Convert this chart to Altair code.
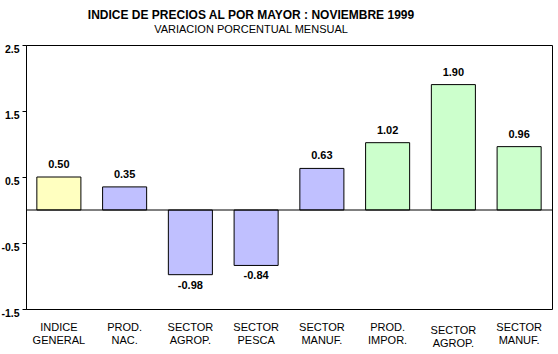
import altair as alt
import pandas as pd

codes = ["A", "B", "C", "D", "E", "F", "G", "H"]
line1 = ["INDICE", "PROD.", "SECTOR", "SECTOR", "SECTOR", "PROD.", "SECTOR", "SECTOR"]
line2 = ["GENERAL", "NAC.", "AGROP.", "PESCA", "MANUF.", "IMPOR.", "AGROP.", "MANUF."]
values = [0.50, 0.35, -0.98, -0.84, 0.63, 1.02, 1.90, 0.96]
groups = ["general", "nacional", "nacional", "nacional", "nacional",
          "importado", "importado", "importado"]
y_ticks = [-1.5, -0.5, 0.5, 1.5, 2.5]

df = pd.DataFrame({
    "code": codes,
    "value": values,
    "group": groups,
    "label": [f"{v:.2f}" for v in values],
})

label_map = "{" + ",".join(
    f"'{c}':['{a}','{b}']" for c, a, b in zip(codes, line1, line2)
) + "}"

font = "Liberation Sans"

x_enc = alt.X(
    "code:N", sort=None,
    scale=alt.Scale(paddingInner=0.33, paddingOuter=0.165),
    axis=alt.Axis(
        title=None, domain=False, ticks=False, labelAngle=0,
        labelExpr=label_map + "[datum.value]",
        labelBaseline="top",
        labelPadding={"condition": {"test": "datum.value === 'G'", "value": 15}, "value": 12},
        labelLineHeight=13, labelFont=font, labelFontSize=11, labelColor="black",
    ),
)
y_enc = alt.Y(
    "value:Q",
    scale=alt.Scale(domain=[-1.5, 2.5], nice=False, zero=False),
    axis=alt.Axis(
        values=y_ticks, title=None, grid=False,
        labelExpr="replace(format(datum.value, '.1f'), '\u2212', '-')",
        domainColor="black", tickColor="black", tickSize=4,
        labelFont=font, labelFontWeight="bold", labelFontSize=10.5,
        labelBaseline="top", labelOffset=-1, labelPadding=3, labelColor="black",
    ),
)

base = alt.Chart(df)

bars = base.mark_bar(stroke="black", strokeWidth=1).encode(
    x=x_enc, y=y_enc,
    color=alt.Color("group:N", legend=None,
                    scale=alt.Scale(domain=["general", "nacional", "importado"],
                                    range=["#FFFFC0", "#C0C0FF", "#CCFFCC"])),
)

zero = alt.Chart(pd.DataFrame({"z": [0]})).mark_rule(color="black", strokeWidth=1).encode(
    y=alt.Y("z:Q")
)

pos_text = base.transform_filter("datum.value >= 0").mark_text(
    font=font, fontWeight="bold", fontSize=11, baseline="bottom", dy=-7, color="black"
).encode(x=alt.X("code:N", sort=None), y="value:Q", text="label:N")

neg_text = base.transform_filter("datum.value < 0").mark_text(
    font=font, fontWeight="bold", fontSize=11, baseline="top", dy=5, color="black"
).encode(x=alt.X("code:N", sort=None), y="value:Q", text="label:N")

chart = alt.layer(bars, zero, pos_text, neg_text).properties(
    width=526, height=264,
    title=alt.Title(
        "INDICE DE PRECIOS AL POR MAYOR : NOVIEMBRE 1999",
        subtitle="VARIACION PORCENTUAL MENSUAL",
        font=font, fontSize=12, fontWeight="bold", color="black",
        subtitleFont=font, subtitleFontSize=11, subtitleColor="black",
        anchor="middle", dx=-38, offset=8, subtitlePadding=2,
    ),
    autosize=alt.AutoSizeParams(type="none"),
    padding={"left": 26, "top": 45, "right": 6, "bottom": 45},
    background="white",
).configure_view(stroke="black", strokeWidth=1, fill="white")

chart.save("out.html", embed_options={"renderer": "svg", "actions": False})
